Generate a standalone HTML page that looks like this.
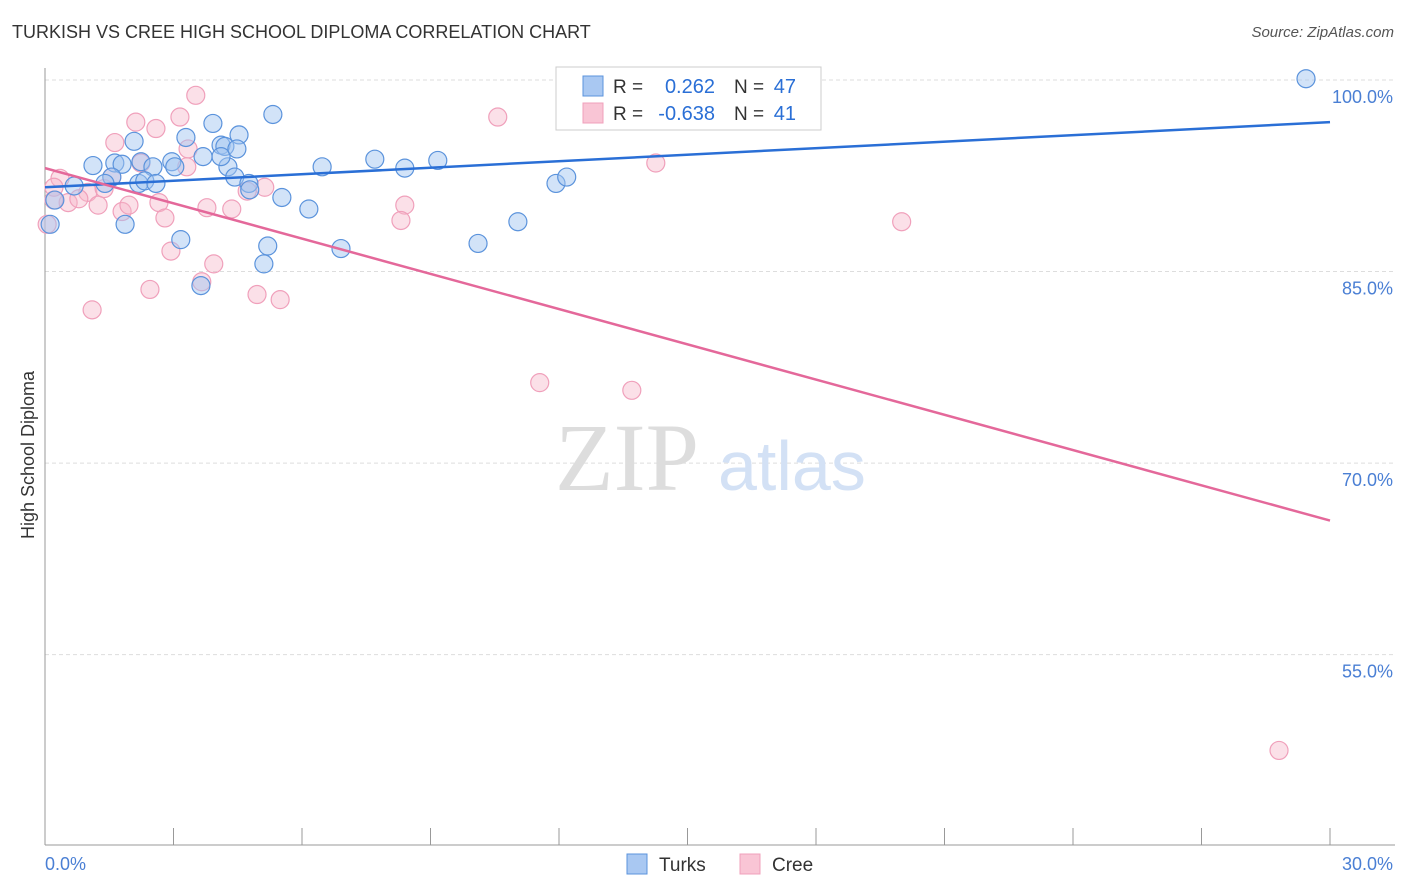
<!DOCTYPE html>
<html><head><meta charset="utf-8">
<style>
body{margin:0;background:#fff;font-family:"Liberation Sans",sans-serif;}
#wrap{position:relative;width:1406px;height:892px;overflow:hidden;}
.t{position:absolute;white-space:nowrap;}
</style></head><body>
<div id="wrap">
<div class="t" style="left:12px;top:22px;font-size:18px;color:#333;">TURKISH VS CREE HIGH SCHOOL DIPLOMA CORRELATION CHART</div>
<div class="t" style="right:12px;top:24px;font-size:15px;color:#555;font-style:italic;">Source: ZipAtlas.com</div>
<svg id="svg" width="1406" height="892" style="position:absolute;left:0;top:0"></svg>
</div>
<script>
const turksX=[2.08,1.63,1.8,2.24,2.52,2.96,3.29,3.69,4.11,4.2,4.27,4.43,4.76,3.92,4.11,4.53,4.48,4.78,2.19,2.33,2.59,1.56,1.4,0.68,0.23,1.87,3.17,3.64,5.2,5.11,5.53,6.16,5.32,6.47,6.91,7.7,8.4,9.17,10.11,11.04,11.93,12.18,12.28,29.44,0.12,1.12,3.03];
const turksY=[95.2,93.5,93.4,93.6,93.2,93.6,95.5,94.0,94.9,94.8,93.2,92.4,91.9,96.6,94.0,95.7,94.6,91.4,91.9,92.1,91.9,92.4,91.9,91.7,90.6,88.7,87.5,83.9,87.0,85.6,90.8,89.9,97.3,93.2,86.8,93.8,93.1,93.7,87.2,88.9,91.9,92.4,100.1,100.1,88.7,93.3,93.2];
const creeX=[3.52,3.15,2.12,2.59,1.63,3.34,2.24,3.31,0.35,1.0,1.38,1.56,0.21,0.05,0.54,0.79,1.24,1.8,1.96,2.66,2.8,3.78,4.36,4.72,5.13,2.94,3.94,3.66,2.45,4.95,5.49,1.1,8.4,8.31,10.57,14.26,20.0,11.55,13.7,28.81,0.21];
const creeY=[98.8,97.1,96.7,96.2,95.1,94.6,93.5,93.2,92.3,91.2,91.5,92.4,91.6,88.7,90.4,90.7,90.2,89.7,90.2,90.4,89.2,90.0,89.9,91.3,91.6,86.6,85.6,84.2,83.6,83.2,82.8,82.0,90.2,89.0,97.1,93.5,88.9,76.3,75.7,47.5,90.6];
const yTicks=[100,85,70,55];
const yTickLabels=["100.0%","85.0%","70.0%","55.0%"];
const xEnds=["0.0%","30.0%"];
const turksLine=[[0,91.6],[30,96.7]];
const creeLine=[[0,93.1],[30,65.5]];

const X0=45,X1=1330,Y100=80,PPU=12.77;
const xs=v=>X0+(v/30)*(X1-X0);
const ys=v=>Y100+(100-v)*PPU;
const NS="http://www.w3.org/2000/svg";
const svg=document.getElementById('svg');
function mk(tag,attrs,parent){const e=document.createElementNS(NS,tag);for(const k in attrs)e.setAttribute(k,attrs[k]);(parent||svg).appendChild(e);return e;}

yTicks.forEach((t,i)=>{
 const g=mk('line',{x1:X0,x2:1395,y1:ys(t),y2:ys(t),stroke:'#ddd','stroke-dasharray':'4,3'});
 
 
 const tx=mk('text',{x:1393,y:ys(t)+23,'text-anchor':'end','font-size':18,fill:'#4a7fd4','font-family':'Liberation Sans'});
 tx.textContent=yTickLabels[i];
 
 
});
let a=mk('line',{x1:X0,x2:X0,y1:68,y2:845,stroke:'#999'});


a=mk('line',{x1:X0,x2:1395,y1:845,y2:845,stroke:'#999'});


for(let i=1;i<=10;i++){const x=X0+i*(X1-X0)/10;const tk=mk('line',{x1:x,x2:x,y1:828,y2:845,stroke:'#999'});
 
 }
[[X0+24,'start',0],[1393,'end',1]].forEach(([x,an,i])=>{const tx=mk('text',{x:i?x:X0,y:870,'text-anchor':an,'font-size':18,fill:'#4a7fd4','font-family':'Liberation Sans'});tx.textContent=xEnds[i];
 
 });
let yt=mk('text',{x:34,y:455,'text-anchor':'middle','font-size':18,fill:'#333',transform:'rotate(-90 34 455)','font-family':'Liberation Sans'});yt.textContent='High School Diploma';


let wm=mk('text',{x:555,y:490,'font-size':96,fill:'#ddd','font-family':'Liberation Serif'});wm.textContent='ZIP';


wm=mk('text',{x:718,y:490,'font-size':70,fill:'#d3e1f5','font-family':'Liberation Sans'});wm.textContent='atlas';



creeX.forEach((v,i)=>{const c=mk('circle',{cx:xs(v),cy:ys(creeY[i]),r:9,fill:'rgba(246,180,200,0.42)',stroke:'#f0a0bb','stroke-width':1.2});
 
 });
turksX.forEach((v,i)=>{const c=mk('circle',{cx:xs(v),cy:ys(turksY[i]),r:9,fill:'rgba(160,196,240,0.48)',stroke:'#5b93dc','stroke-width':1.2});
 
 });
let l=mk('line',{x1:xs(turksLine[0][0]),y1:ys(turksLine[0][1]),x2:xs(turksLine[1][0]),y2:ys(turksLine[1][1]),stroke:'#2a6fd6','stroke-width':2.5});


l=mk('line',{x1:xs(creeLine[0][0]),y1:ys(creeLine[0][1]),x2:xs(creeLine[1][0]),y2:ys(creeLine[1][1]),stroke:'#e4689a','stroke-width':2.5});



let g=mk('g',{});


mk('rect',{x:556,y:67,width:265,height:63,fill:'#fff',stroke:'#ccc'},g);
[[86,'#a9c8f2','#5b93dc','0.262','47'],[113,'#f9c5d5','#f0a0bb','-0.638','41']].forEach(r=>{
 mk('rect',{x:583,y:r[0]-10,width:20,height:20,fill:r[1],stroke:r[2]},g);
 let t=mk('text',{x:613,y:r[0]+7,'font-size':19,fill:'#333','font-family':'Liberation Sans'},g);t.textContent='R = ';
 t=mk('text',{x:715,y:r[0]+7,'text-anchor':'end','font-size':20,fill:'#2a6fd6','font-family':'Liberation Sans'},g);t.textContent=r[3];
 t=mk('text',{x:734,y:r[0]+7,'font-size':19,fill:'#333','font-family':'Liberation Sans'},g);t.textContent='N = ';
 t=mk('text',{x:796,y:r[0]+7,'text-anchor':'end','font-size':20,fill:'#2a6fd6','font-family':'Liberation Sans'},g);t.textContent=r[4];
});
[[627,'#a9c8f2','#5b93dc','Turks',659,'legend-turks'],[740,'#f9c5d5','#f0a0bb','Cree',772,'legend-cree']].forEach(r=>{
 const gg=mk('g',{});
 
 
 mk('rect',{x:r[0],y:854,width:20,height:20,fill:r[1],stroke:r[2]},gg);
 const t=mk('text',{x:r[4],y:871,'font-size':19,fill:'#333','font-family':'Liberation Sans'},gg);t.textContent=r[3];
});
</script>
</body></html>
